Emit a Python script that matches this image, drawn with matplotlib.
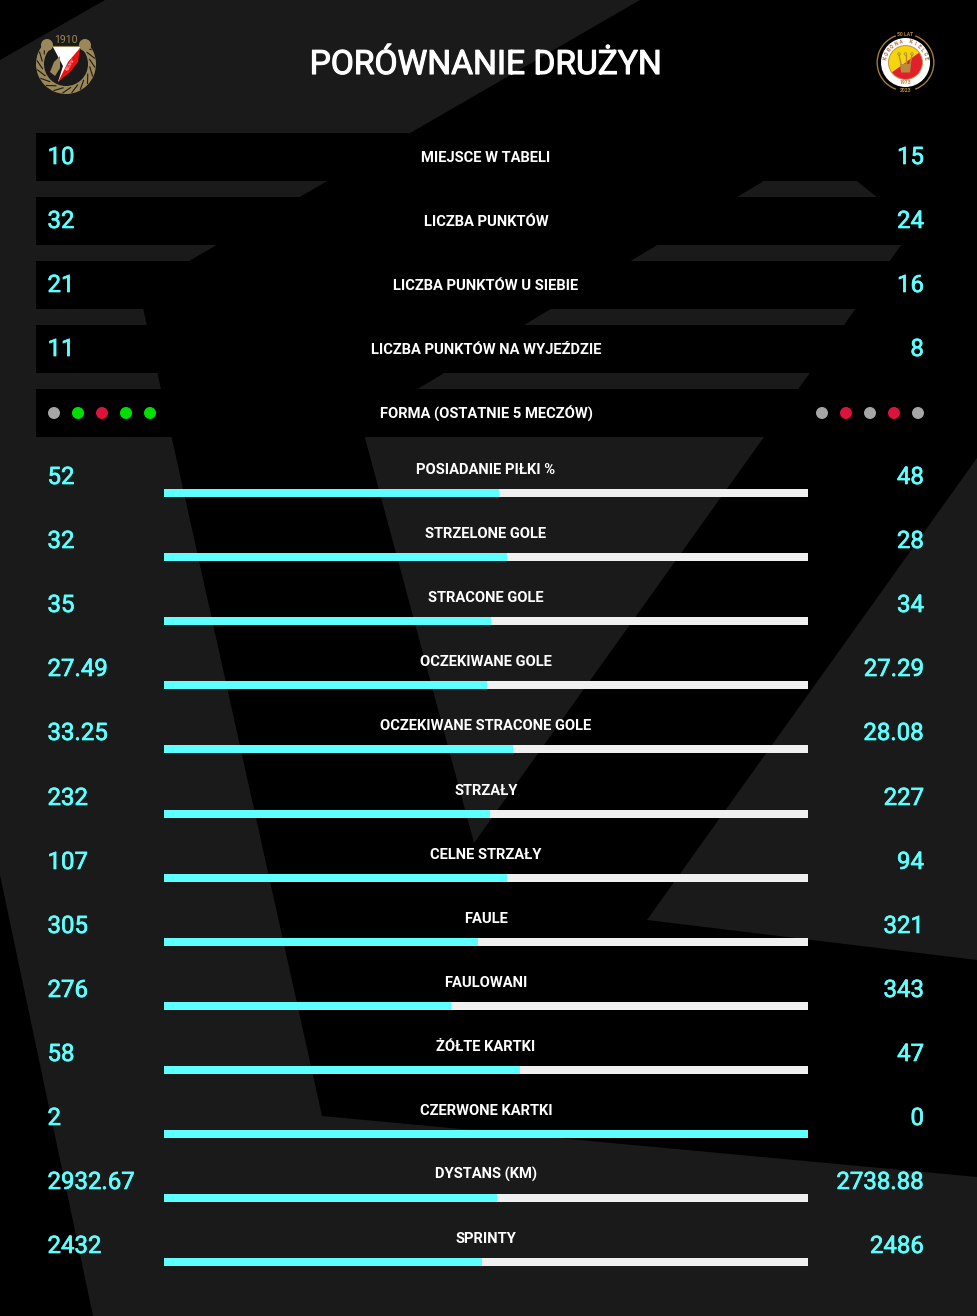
import numpy as np
import matplotlib
matplotlib.use("Agg")
import matplotlib.pyplot as plt
import matplotlib.patheffects as pe
from matplotlib.patches import Polygon, Circle, Wedge

plt.rcParams['font.family'] = ['Roboto', 'DejaVu Sans']

top_labels = ['MIEJSCE W TABELI', 'LICZBA PUNKTÓW', 'LICZBA PUNKTÓW U SIEBIE', 'LICZBA PUNKTÓW NA WYJEŹDZIE']
top_left = ['10', '32', '21', '11']
top_right = ['15', '24', '16', '8']

form_label = 'FORMA (OSTATNIE 5 MECZÓW)'
form_left = ['draw', 'win', 'loss', 'win', 'win']
form_right = ['draw', 'loss', 'draw', 'loss', 'draw']

stat_labels = ['POSIADANIE PIŁKI %', 'STRZELONE GOLE', 'STRACONE GOLE', 'OCZEKIWANE GOLE',
               'OCZEKIWANE STRACONE GOLE', 'STRZAŁY', 'CELNE STRZAŁY', 'FAULE', 'FAULOWANI',
               'ŻÓŁTE KARTKI', 'CZERWONE KARTKI', 'DYSTANS (KM)', 'SPRINTY']
stat_left = ['52', '32', '35', '27.49', '33.25', '232', '107', '305', '276', '58', '2', '2932.67', '2432']
stat_right = ['48', '28', '34', '27.29', '28.08', '227', '94', '321', '343', '47', '0', '2738.88', '2486']

CYAN = '#5effff'
GREY = '#1a1a1a'
LIGHT = '#f0f0f0'
GOLD = '#9a8858'
CROWN = '#b88a3e'
FORM_COLORS = {'draw': '#a6a6a6', 'win': '#00e000', 'loss': '#dc143c'}


def px(size):
    return size * 0.72


def draw_background(ax):
    ax.add_patch(Polygon([(0, 60), (105, 0), (640, 0), (139, 290), (322, 1116), (977, 1177),
                          (977, 1316), (93, 1316), (0, 875)], fc=GREY, ec='none', zorder=1))
    ax.add_patch(Polygon([(817, 149), (914, 227), (474, 843), (361, 423)], fc=GREY, ec='none', zorder=1))
    ax.add_patch(Polygon([(977, 458), (647, 920), (977, 960)], fc=GREY, ec='none', zorder=1))


def curved_text(ax, s, cx, cy, r, step_deg, color, size):
    n = len(s)
    for i, ch in enumerate(s):
        a = np.radians(90 - (i - (n - 1) / 2) * step_deg)
        ax.text(cx + r * np.cos(a), cy - r * np.sin(a), ch, color=color, fontsize=px(size),
                rotation=np.degrees(a) - 90, ha='center', va='center', rotation_mode='anchor',
                fontweight='bold', zorder=10)


def draw_left_logo(ax):
    cx, cy = 66, 64
    ax.add_patch(Wedge((cx, cy), 30, 0, 360, width=8, fc=GOLD, ec='none', zorder=6))
    # leaf cuts in the wreath
    for i in range(20):
        a = np.radians(i * 18 + 7)
        ax.plot([cx + 24 * np.cos(a), cx + 29 * np.cos(a + 0.3)],
                [cy + 24 * np.sin(a), cy + 29 * np.sin(a + 0.3)], color=GREY, lw=0.8, zorder=7)
    ax.add_patch(Wedge((cx, cy), 32, 235, 305, width=14, fc=GREY, ec='none', zorder=7))
    ax.add_patch(Circle((47, 45), 6, fc=GOLD, ec='none', zorder=8))
    ax.add_patch(Circle((85, 45), 6, fc=GOLD, ec='none', zorder=8))
    ax.text(cx, 40, '1910', color=GOLD, fontsize=px(10.5), ha='center', va='center', zorder=8)
    ax.plot([53, 79], [45.5, 45.5], color=GOLD, lw=0.8, zorder=8)
    ax.add_patch(Polygon([(53, 47), (80, 47), (77, 60), (58, 82), (63, 66)], fc='white', ec='none', zorder=8))
    ax.add_patch(Polygon([(80, 48), (78, 62), (70, 72), (58, 82), (68, 62)], fc='#f01010', ec='none', zorder=9))
    ax.add_patch(Polygon([(50, 72), (54, 62), (60, 56), (60, 68), (55, 76)], fc=GOLD, ec='none', zorder=8))
    ax.text(71, 65, 'WIDZEW', color='white', fontsize=px(3.5), rotation=58, ha='center', va='center', zorder=10)


def draw_right_logo(ax):
    cx, cy = 905.5, 62.5
    ax.add_patch(Wedge((cx, cy), 29, 0, 360, width=1.3, fc='#a9843a', ec='none', zorder=6))
    ax.add_patch(Wedge((cx, cy), 33, 70, 110, width=8, fc='black', ec='none', zorder=7))
    ax.add_patch(Wedge((cx, cy), 33, 250, 290, width=8, fc='black', ec='none', zorder=7))
    ax.add_patch(Circle((cx, cy), 24.5, fc='white', ec='none', zorder=7))
    ax.add_patch(Circle((cx, cy), 17, fc='#e2202c', ec='#c09a50', lw=0.7, zorder=8))
    ax.add_patch(Wedge((cx, cy), 16.6, 144, 324, fc='#f5d60a', ec='none', zorder=8))
    # crown
    ax.add_patch(Polygon([(900, 64), (911, 64), (910, 72.5), (901, 72.5)], fc=CROWN, ec='none', zorder=9))
    for x in [899, 905.5, 912]:
        ax.plot([x, 905.5 + (x - 905.5) * 0.7], [55, 64], color=CROWN, lw=1.0, zorder=9)
        ax.add_patch(Circle((x, 54), 1.3, fc='none', ec=CROWN, lw=0.6, zorder=9))
    curved_text(ax, 'KORONA KIELCE', cx, cy, 20.8, 13, '#a8632e', 5)
    ax.text(cx, 82, '1973', color=CROWN, fontsize=px(5), fontweight='bold', ha='center', va='center', zorder=9)
    ax.text(cx, 35, '50 LAT', color=CROWN, fontsize=px(5), fontweight='bold', ha='center', va='center', zorder=9)
    ax.text(cx, 91, '2023', color=CROWN, fontsize=px(5), fontweight='bold', ha='center', va='center', zorder=9)


def main():
    fig = plt.figure(figsize=(9.77, 13.16), dpi=100, facecolor='black')
    ax = fig.add_axes([0, 0, 1, 1])
    ax.set_xlim(0, 977)
    ax.set_ylim(1316, 0)
    ax.axis('off')

    draw_background(ax)

    ax.text(486, 74, 'PORÓWNANIE DRUŻYN', color='white', fontsize=px(33.5), ha='center', va='baseline', zorder=5,
            path_effects=[pe.withStroke(linewidth=0.8, foreground='white')])
    draw_left_logo(ax)
    draw_right_logo(ax)

    # black rows at the top
    row_tops = 133 + 64 * np.arange(len(top_labels) + 1)
    ax.barh(row_tops + 24, [905] * len(row_tops), left=36, height=48, color='black', zorder=2)

    value_font = dict(color=CYAN, fontsize=px(24), va='baseline', zorder=5,
                      path_effects=[pe.withStroke(linewidth=0.5, foreground=CYAN)])
    label_font = dict(color='white', fontsize=px(14.7), fontweight='bold', ha='center', va='baseline', zorder=5)

    for i, label in enumerate(top_labels):
        ax.text(47.5, row_tops[i] + 31, top_left[i], ha='left', **value_font)
        ax.text(924, row_tops[i] + 31, top_right[i], ha='right', **value_font)
        ax.text(486, row_tops[i] + 29, label, **label_font)

    # form row
    form_y = row_tops[-1] + 24
    ax.text(486, row_tops[-1] + 29, form_label, **label_font)
    ax.scatter(54 + 24 * np.arange(5), [form_y] * 5, s=px(12) ** 2, linewidths=0,
               color=[FORM_COLORS[r] for r in form_left], zorder=5)
    ax.scatter(822 + 24 * np.arange(5), [form_y] * 5, s=px(12) ** 2, linewidths=0,
               color=[FORM_COLORS[r] for r in form_right], zorder=5)

    # stat rows with split bars
    left_vals = np.array([float(v) for v in stat_left])
    right_vals = np.array([float(v) for v in stat_right])
    shares = left_vals / (left_vals + right_vals)
    rows = np.arange(len(stat_labels))
    bar_y = 493 + 64 * rows + (rows >= 5)
    ax.barh(bar_y, [644] * len(bar_y), left=164, height=8, color=LIGHT, zorder=3)
    ax.barh(bar_y, shares * 644, left=164, height=8, color=CYAN, zorder=4)

    for i, label in enumerate(stat_labels):
        ax.text(47.5, bar_y[i] - 9, stat_left[i], ha='left', **value_font)
        ax.text(924, bar_y[i] - 9, stat_right[i], ha='right', **value_font)
        ax.text(486, bar_y[i] - 19, label, **label_font)

    fig.savefig('out.png', dpi=100, facecolor='black')
    plt.close(fig)


if __name__ == "__main__":
    main()
